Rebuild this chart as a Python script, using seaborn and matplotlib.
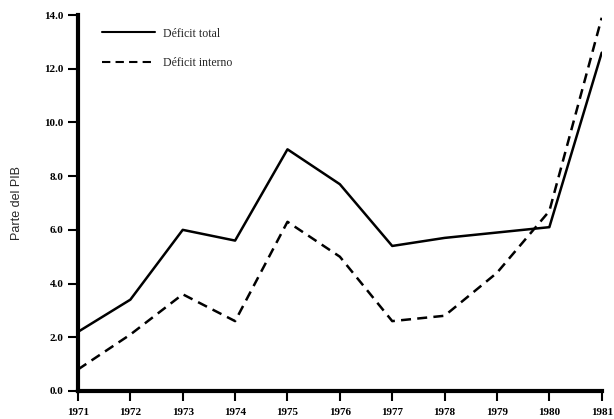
import pandas as pd
import matplotlib
matplotlib.use("Agg")
import matplotlib.pyplot as plt
import seaborn as sns

# data
years = [1971, 1972, 1973, 1974, 1975, 1976, 1977, 1978, 1979, 1980, 1981]
deficit_total = [2.2, 3.4, 6.0, 5.6, 9.0, 7.7, 5.4, 5.7, 5.9, 6.1, 12.6]
deficit_interno = [0.8, 2.1, 3.6, 2.6, 6.3, 5.0, 2.6, 2.8, 4.4, 6.7, 13.9]
series_names = ["Déficit total", "Déficit interno"]
y_ticks = [0.0, 2.0, 4.0, 6.0, 8.0, 10.0, 12.0, 14.0]

df = pd.DataFrame({
    "year": years * 2,
    "value": deficit_total + deficit_interno,
    "serie": [series_names[0]] * len(years) + [series_names[1]] * len(years),
})

sns.set_style("ticks")
plt.rcParams["font.family"] = ["Liberation Serif", "DejaVu Serif"]

fig = plt.figure(figsize=(6.14, 4.19), dpi=100)
ax = fig.add_axes([0.127, 0.067, 0.853, 0.897])

sns.lineplot(data=df, x="year", y="value", style="serie", color="black",
             dashes={series_names[0]: "", series_names[1]: (4, 2.5)},
             linewidth=1.8, ax=ax)

ax.set_xlim(1971, 1981)
ax.set_ylim(0, 14)
ax.set_xticks(years)
ax.set_xticklabels([str(y) for y in years], fontsize=8, fontweight="bold")
ax.set_yticks(y_ticks)
ax.set_yticklabels([f"{v:.1f}" for v in y_ticks], fontsize=8, fontweight="bold")
ax.tick_params(axis="both", direction="out", length=7, width=1.5, colors="black")
ax.tick_params(axis="x", pad=5)

for s in ["top", "right"]:
    ax.spines[s].set_visible(False)
for s in ["left", "bottom"]:
    ax.spines[s].set_linewidth(3)
    ax.spines[s].set_color("black")

ax.set_xlabel("")
ax.set_ylabel("Parte del PIB", fontsize=9, family=["Liberation Sans", "DejaVu Sans"])
ax.yaxis.set_label_coords(-0.105, 0.5)

leg = ax.legend(loc="upper left", bbox_to_anchor=(0.025, 0.995), frameon=False,
                fontsize=8.5, handlelength=4.5, handletextpad=0.7, labelspacing=1.5)
for line in leg.get_lines():
    line.set_linewidth(1.5)

plt.savefig("out.png", dpi=100)
